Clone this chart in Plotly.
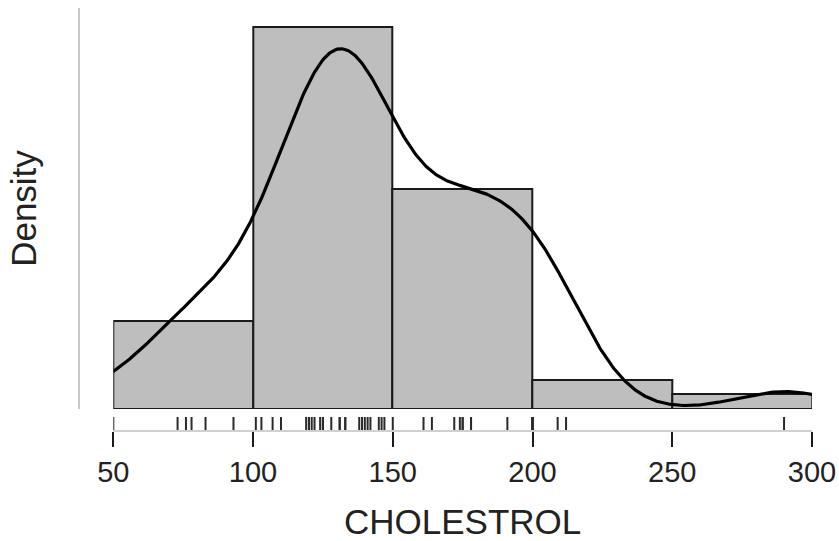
import numpy as np
import plotly.graph_objects as go

cholesterol = [
    50, 73, 76, 78, 83, 93,
    101, 103, 107, 110, 119, 120, 120, 121, 122, 124, 125, 125, 128,
    131, 131, 133, 133, 138, 139, 140, 141, 142, 145, 146, 147, 150,
    161, 164, 172, 174, 175, 175, 178, 178, 178, 191, 200, 200, 200, 200, 200,
    209, 212,
    290,
]
bin_edges = [50, 100, 150, 200, 250, 300]
x_ticks = [50, 100, 150, 200, 250, 300]
x_label = "CHOLESTROL"
y_label = "Density"

data = np.array(cholesterol, dtype=float)
n = len(data)
edges = np.array(bin_edges, dtype=float)
widths = np.diff(edges)
# right-closed bins, lowest included (R hist default)
counts = np.array([
    np.sum((data > lo) & (data <= hi)) + (np.sum(data == lo) if i == 0 else 0)
    for i, (lo, hi) in enumerate(zip(edges[:-1], edges[1:]))
])
dens = counts / (n * widths)
centers = (edges[:-1] + edges[1:]) / 2

# Gaussian KDE, bandwidth by R's bw.nrd0 rule
sd = data.std(ddof=1)
iqr = np.percentile(data, 75) - np.percentile(data, 25)
bw = 0.9 * min(sd, iqr / 1.34) * n ** (-0.2)
grid = np.linspace(edges[0], edges[-1], 600)
kde = np.exp(-0.5 * ((grid[:, None] - data[None, :]) / bw) ** 2).sum(axis=1) / (n * bw * np.sqrt(2 * np.pi))

# rug segments
rug_x, rug_y = [], []
for v in data:
    rug_x += [v, v, None]
    rug_y += [0, 1, None]

FONT = "Liberation Sans, Arial, sans-serif"
TXT = "#222222"

fig = go.Figure()
fig.add_trace(go.Bar(
    x=centers, y=dens, width=widths,
    marker=dict(color="#BEBEBE", line=dict(color="#1a1a1a", width=2)),
    xaxis="x", yaxis="y", hoverinfo="skip",
))
fig.add_trace(go.Scatter(
    x=grid, y=kde, mode="lines",
    line=dict(color="black", width=3.2),
    xaxis="x", yaxis="y",
))
fig.add_trace(go.Scatter(
    x=rug_x, y=rug_y, mode="lines",
    line=dict(color="#2a2a2a", width=2),
    xaxis="x", yaxis="y2",
))

plot_h = 541 - 8 - 111
ymax = 27.3 / 2500

fig.update_layout(
    width=839, height=541,
    margin=dict(l=79, r=27, t=8, b=111),
    paper_bgcolor="white", plot_bgcolor="white",
    showlegend=False,
    bargap=0,
    font=dict(family=FONT, color=TXT),
    xaxis=dict(
        domain=[34.3 / 733, 1], range=[edges[0], edges[-1]],
        anchor="y2", automargin=False,
        tickmode="array", tickvals=x_ticks,
        ticks="outside", ticklen=15, tickwidth=2, tickcolor="#1a1a1a",
        showline=True, linecolor="#D0D0D0", linewidth=1.5,
        showgrid=False, zeroline=False,
        tickfont=dict(size=29, family=FONT, color=TXT),
        title=dict(text=x_label, font=dict(size=35, family=FONT, color=TXT), standoff=26),
    ),
    yaxis=dict(
        domain=[(430 - 409) / plot_h, 1], range=[0, ymax],
        anchor="free", position=0, automargin=False,
        showline=True, linecolor="#C8C8C8", linewidth=1.5,
        showticklabels=False, ticks="", showgrid=False, zeroline=False,
        title=dict(text=y_label, font=dict(size=35, family=FONT, color=TXT), standoff=30),
    ),
    yaxis2=dict(
        domain=[0, 13 / plot_h], range=[0, 1],
        visible=False, automargin=False,
    ),
)

fig.write_html("out.html", config={"displayModeBar": False},
               post_script="document.body.style.margin='0';")
